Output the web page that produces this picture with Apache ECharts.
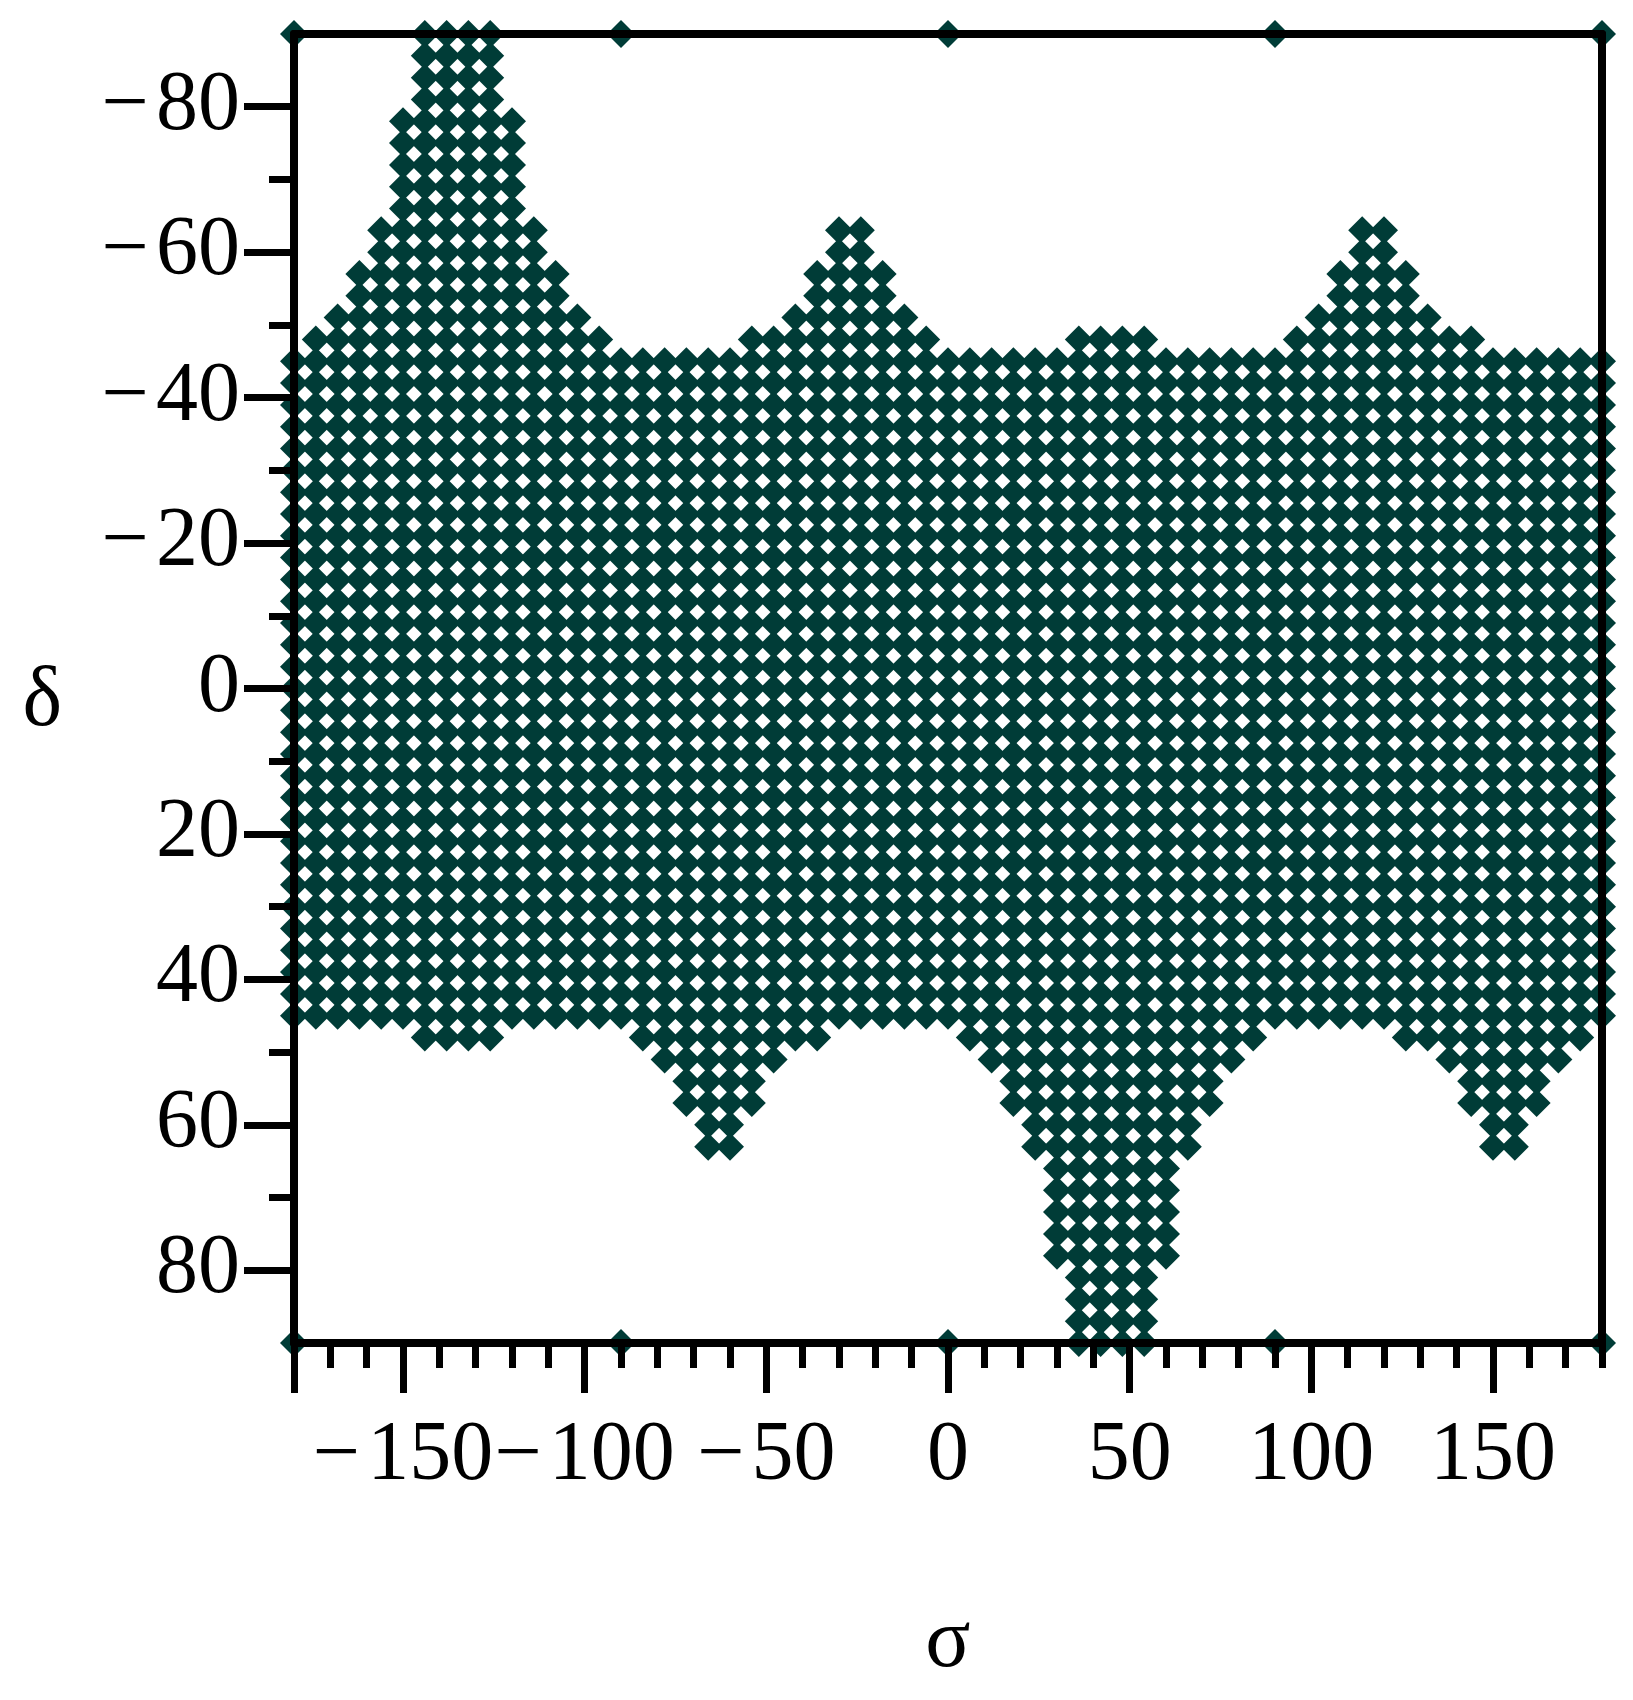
<!DOCTYPE html>
<html>
<head>
<meta charset="utf-8">
<script src="https://cdn.jsdelivr.net/npm/echarts@6/dist/echarts.min.js"></script>
<style>
html,body{margin:0;padding:0;background:#ffffff;}
#chart{width:1633px;height:1700px;}
</style>
</head>
<body>
<div id="chart"></div>
<script>
// ---- data ----
// sampled sigma columns (step 6)
const sigmaColumns = [-180,-174,-168,-162,-156,-150,-144,-138,-132,-126,-120,-114,-108,-102,-96,-90,-84,-78,-72,-66,-60,-54,-48,-42,-36,-30,-24,-18,-12,-6,0,6,12,18,24,30,36,42,48,54,60,66,72,78,84,90,96,102,108,114,120,126,132,138,144,150,156,162,168,174,180];
// upper (most negative) delta of the filled run in each column
const topDelta = [-45,-48,-51,-57,-63,-78,-90,-90,-90,-90,-78,-63,-57,-51,-48,-45,-45,-45,-45,-45,-45,-48,-48,-51,-57,-63,-63,-57,-51,-48,-45,-45,-45,-45,-45,-45,-48,-48,-48,-48,-45,-45,-45,-45,-45,-45,-48,-51,-57,-63,-63,-57,-51,-48,-48,-45,-45,-45,-45,-45,-45];
// lower (most positive) delta of the filled run in each column
const bottomDelta = [45,45,45,45,45,45,48,48,48,48,45,45,45,45,45,45,48,51,57,63,63,57,51,48,48,45,45,45,45,45,45,48,51,57,63,78,90,90,90,90,78,63,57,51,48,45,45,45,45,45,45,48,48,51,57,63,63,57,51,48,45];
// delta spacing of the sample rows
const deltaStep = 3;
// isolated points on the delta = -90 / +90 edges
const poleSigma = [-180,-90,0,90,180];
const poleDelta = [-90,90];
// tick labels
const xTickLabels = [-150,-100,-50,0,50,100,150];
const xLongTicks = [-180,-150,-100,-50,0,50,100,150];
const xShortTicks = [-170,-160,-140,-130,-120,-110,-90,-80,-70,-60,-40,-30,-20,-10,10,20,30,40,60,70,80,90,110,120,130,140,160,170,180];
const yTickLabels = [-80,-60,-40,-20,0,20,40,60,80];
const yShortTicks = [-70,-50,-30,-10,10,30,50,70];

// ---- build points ----
const points = [];
sigmaColumns.forEach(function(s, i){
  for (let d = topDelta[i]; d <= bottomDelta[i]; d += deltaStep) points.push([s, d]);
});
poleSigma.forEach(function(s){ poleDelta.forEach(function(d){ points.push([s, d]); }); });

const FONT = 'Liberation Serif';
const INK = '#000000';
const MARK = '#003c37';
const FS = 84;
function fmt(v){ return v < 0 ? '\u2212\u200a' + Math.abs(v) : String(v); }

const chart = echarts.init(document.getElementById('chart'), null, {renderer:'canvas'});
chart.setOption({
  animation: false,
  backgroundColor: '#ffffff',
  grid: {left: 294, right: 31, top: 34, bottom: 357, containLabel: false},
  xAxis: [
    {
      type: 'value', min: -180, max: 180, position: 'bottom', z: 10,
      axisLine: {show: true, onZero: false, lineStyle: {color: INK, width: 8}},
      axisTick: {show: true, customValues: xLongTicks, length: 50, lineStyle: {color: INK, width: 7}},
      axisLabel: {show: true, customValues: xTickLabels, formatter: fmt, margin: 72, hideOverlap: false,
                  showMinLabel: true, showMaxLabel: true,
                  fontSize: FS, fontFamily: FONT, color: INK},
      splitLine: {show: false},
      name: '\u03c3', nameLocation: 'middle', nameGap: 259,
      nameTextStyle: {fontSize: FS, fontFamily: FONT, color: INK}
    },
    {
      type: 'value', min: -180, max: 180, position: 'bottom', z: 9,
      axisLine: {show: false, onZero: false},
      axisTick: {show: true, customValues: xShortTicks, length: 25, lineStyle: {color: INK, width: 7}},
      axisLabel: {show: false}, splitLine: {show: false}
    },
    {
      type: 'value', min: -180, max: 180, position: 'top', z: 10,
      axisLine: {show: true, onZero: false, lineStyle: {color: INK, width: 8}},
      axisTick: {show: false}, axisLabel: {show: false}, splitLine: {show: false}
    }
  ],
  yAxis: [
    {
      type: 'value', min: -90, max: 90, inverse: true, position: 'left', z: 10,
      axisLine: {show: true, onZero: false, lineStyle: {color: INK, width: 8}},
      axisTick: {show: true, customValues: yTickLabels, length: 50, lineStyle: {color: INK, width: 7}},
      axisLabel: {show: true, customValues: yTickLabels, formatter: fmt, margin: 54, hideOverlap: false,
                  fontSize: FS, fontFamily: FONT, color: INK},
      splitLine: {show: false},
      name: '{d|\u03b4}', nameLocation: 'middle', nameRotate: 0, nameGap: 232,
      nameTextStyle: {fontSize: FS, fontFamily: FONT, color: INK,
                      rich: {d: {fontSize: FS, fontFamily: FONT, color: INK, padding: [28, 0, 0, 0]}}}
    },
    {
      type: 'value', min: -90, max: 90, inverse: true, position: 'left', z: 9,
      axisLine: {show: false, onZero: false},
      axisTick: {show: true, customValues: yShortTicks, length: 25, lineStyle: {color: INK, width: 7}},
      axisLabel: {show: false}, splitLine: {show: false}
    },
    {
      type: 'value', min: -90, max: 90, inverse: true, position: 'right', z: 10,
      axisLine: {show: true, onZero: false, lineStyle: {color: INK, width: 8}},
      axisTick: {show: false}, axisLabel: {show: false}, splitLine: {show: false}
    }
  ],
  series: [{
    type: 'scatter',
    xAxisIndex: 0, yAxisIndex: 0,
    data: points,
    symbol: 'diamond',
    symbolSize: 28,
    clip: false,
    large: false,
    itemStyle: {color: MARK, opacity: 1},
    emphasis: {disabled: true},
    z: 2
  }]
});
</script>
</body>
</html>
